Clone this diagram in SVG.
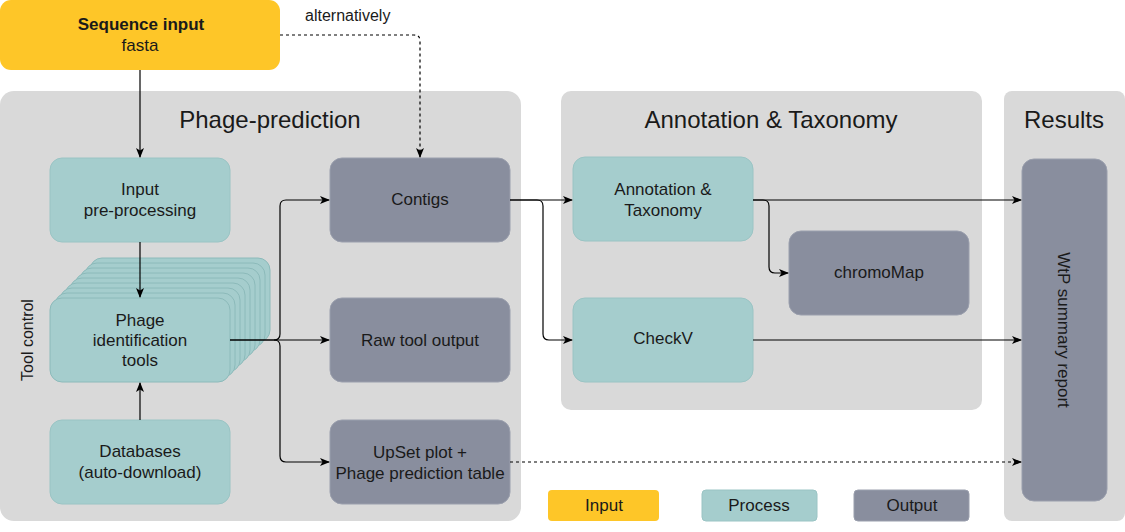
<svg xmlns="http://www.w3.org/2000/svg" width="1125" height="532" viewBox="0 0 1125 532">
<defs>
<marker id="arr" viewBox="0 0 10 10" refX="9" refY="5" markerWidth="10" markerHeight="10" markerUnits="userSpaceOnUse" orient="auto">
<path d="M0,1 L10,5 L0,9 L2.5,5 Z" fill="#000"/>
</marker>
</defs>
<style>
.cont{fill:#d9d9d9;}
.inp{fill:#fec628;}
.proc{fill:#a5cdcd;stroke:#9ac4c4;stroke-width:1;}
.stk{fill:#a5cdcd;stroke:#8cbaba;stroke-width:1;}
.out{fill:#898e9e;stroke:#9a9fad;stroke-width:1;}
text{font-family:"Liberation Sans",Arial,sans-serif;fill:#1a1a1a;}
.t{font-size:17px;text-anchor:middle;}
.h{font-size:24px;text-anchor:middle;}
.c{fill:none;stroke:#000;stroke-width:1.2;}
.d{fill:none;stroke:#000;stroke-width:1.2;stroke-dasharray:3,3;}
</style>
<g id="containers">
<rect id="phage-prediction" class="cont" x="0" y="91" width="521" height="430" rx="14"/>
<rect id="annotation-taxonomy" class="cont" x="561" y="91" width="421" height="319" rx="10"/>
<rect id="results" class="cont" x="1004" y="91" width="121" height="430" rx="8"/>
<text class="h" x="270" y="128">Phage-prediction</text>
<text class="h" x="771" y="128">Annotation &amp; Taxonomy</text>
<text class="h" x="1064" y="128">Results</text>
<text font-size="16" text-anchor="middle" transform="translate(33,340) rotate(-90)">Tool control</text>
</g>
<g id="sequence-input">
<rect class="inp" x="0" y="0" width="280" height="70" rx="11"/>
<text class="t" x="141" y="30" font-weight="bold">Sequence input</text>
<text class="t" x="140" y="51">fasta</text>
</g>
<g id="input-preprocessing">
<rect class="proc" x="50" y="158" width="180" height="84" rx="12"/>
<text class="t" x="140" y="195">Input</text>
<text class="t" x="140" y="216">pre-processing</text>
</g>
<g id="phage-identification-tools">
<rect class="stk" x="90" y="258" width="180" height="84" rx="12"/>
<rect class="stk" x="85" y="263" width="180" height="84" rx="12"/>
<rect class="stk" x="80" y="268" width="180" height="84" rx="12"/>
<rect class="stk" x="75" y="273" width="180" height="84" rx="12"/>
<rect class="stk" x="70" y="278" width="180" height="84" rx="12"/>
<rect class="stk" x="65" y="283" width="180" height="84" rx="12"/>
<rect class="stk" x="60" y="288" width="180" height="84" rx="12"/>
<rect class="stk" x="55" y="293" width="180" height="84" rx="12"/>
<rect class="stk" x="50" y="298" width="180" height="84" rx="12"/>
<text class="t" x="140" y="326">Phage</text>
<text class="t" x="140" y="346">identification</text>
<text class="t" x="140" y="366">tools</text>
</g>
<g id="databases">
<rect class="proc" x="50" y="420" width="180" height="84" rx="12"/>
<text class="t" x="140" y="457">Databases</text>
<text class="t" x="140" y="478">(auto-download)</text>
</g>
<g id="contigs">
<rect class="out" x="330" y="158" width="180" height="84" rx="12"/>
<text class="t" x="420" y="205">Contigs</text>
</g>
<g id="raw-tool-output">
<rect class="out" x="330" y="298" width="180" height="84" rx="12"/>
<text class="t" x="420" y="346">Raw tool output</text>
</g>
<g id="upset-plot">
<rect class="out" x="330" y="420" width="180" height="84" rx="12"/>
<text class="t" x="420" y="458">UpSet plot +</text>
<text class="t" x="420" y="479">Phage prediction table</text>
</g>
<g id="annotation">
<rect class="proc" x="573" y="157" width="180" height="84" rx="12"/>
<text class="t" x="663" y="195">Annotation &amp;</text>
<text class="t" x="663" y="216">Taxonomy</text>
</g>
<g id="checkv">
<rect class="proc" x="573" y="298" width="180" height="84" rx="12"/>
<text class="t" x="663" y="344">CheckV</text>
</g>
<g id="chromomap">
<rect class="out" x="789" y="231" width="180" height="84" rx="12"/>
<text class="t" x="879" y="278">chromoMap</text>
</g>
<g id="wtp-summary-report">
<rect class="out" x="1022" y="159" width="85" height="342" rx="12"/>
<text class="t" transform="translate(1058,330) rotate(90)">WtP summary report</text>
</g>
<g id="legend">
<rect class="inp" x="548" y="490" width="111" height="31" rx="4"/>
<text class="t" x="604" y="511">Input</text>
<rect class="proc" x="702" y="490" width="115" height="31" rx="4"/>
<text class="t" x="759" y="511">Process</text>
<rect class="out" x="854" y="490" width="115" height="31" rx="4"/>
<text class="t" x="912" y="511">Output</text>
</g>
<g id="connectors">
<text font-size="16" x="305" y="21">alternatively</text>
<path class="c" d="M140,70 V157" marker-end="url(#arr)"/>
<path class="d" d="M280,35 H414 Q420,35 420,41 V157" marker-end="url(#arr)"/>
<path class="c" d="M140,242 V297" marker-end="url(#arr)"/>
<path class="c" d="M140,420 V383" marker-end="url(#arr)"/>
<path class="c" d="M230,340 H274 Q280,340 280,334 V206 Q280,200 286,200 H329" marker-end="url(#arr)"/>
<path class="c" d="M230,340 H329" marker-end="url(#arr)"/>
<path class="c" d="M274,340 Q280,340 280,346 V456 Q280,462 286,462 H329" marker-end="url(#arr)"/>
<path class="c" d="M510,200 H572" marker-end="url(#arr)"/>
<path class="c" d="M510,200 H537 Q543,200 543,206 V334 Q543,340 549,340 H572" marker-end="url(#arr)"/>
<path class="c" d="M753,200 H1021" marker-end="url(#arr)"/>
<path class="c" d="M753,200 H763 Q769,200 769,206 V267 Q769,273 775,273 H788" marker-end="url(#arr)"/>
<path class="c" d="M753,340 H1021" marker-end="url(#arr)"/>
<path class="d" d="M510,462 H1021" marker-end="url(#arr)"/>
</g>
</svg>
